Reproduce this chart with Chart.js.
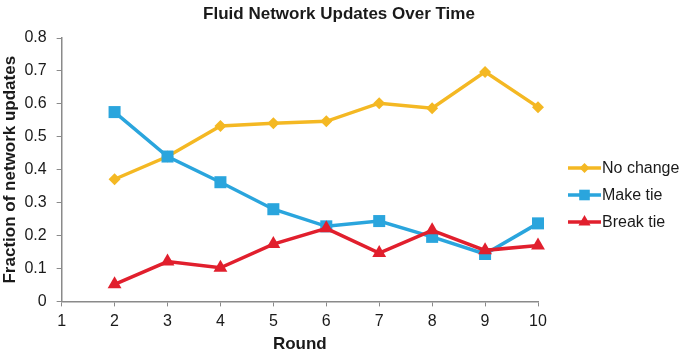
<!DOCTYPE html>
<html>
<head>
<meta charset="utf-8">
<script src="https://cdn.jsdelivr.net/npm/chart.js@4"></script>
<style>
  body { margin: 0; background: #fff; }
  #wrap { width: 685px; height: 355px; }
</style>
</head>
<body>
<div id="wrap"><canvas id="chartCanvas" width="685" height="355"></canvas></div>
<script>
var rounds = [2, 3, 4, 5, 6, 7, 8, 9, 10];
var noChange = [0.371, 0.440, 0.533, 0.541, 0.547, 0.602, 0.587, 0.697, 0.590];
var makeTie = [0.575, 0.440, 0.362, 0.280, 0.228, 0.244, 0.196, 0.144, 0.237];
var breakTie = [0.052, 0.121, 0.102, 0.174, 0.222, 0.147, 0.216, 0.155, 0.170];

var seriesNames = ['No change', 'Make tie', 'Break tie'];
var seriesColors = ['#F4B823', '#2AA5DD', '#E11F2D'];
var seriesMarkers = ['rectRot', 'rect', 'triangle'];
var markerRadii = [6, 8.5, 8];

var FONT = '"Liberation Sans", Arial, sans-serif';
var AXIS = '#8a8a8a';
var TEXT = '#1a1a1a';

function toPoints(vals) {
  return rounds.map(function(r, i) { return { x: r, y: vals[i] }; });
}

function makeDataset(idx, vals) {
  return {
    label: seriesNames[idx],
    data: toPoints(vals),
    borderColor: seriesColors[idx],
    backgroundColor: seriesColors[idx],
    borderWidth: 3.5,
    pointStyle: seriesMarkers[idx],
    pointRadius: markerRadii[idx],
    pointBorderWidth: 0,
    tension: 0,
    clip: false,
    order: 3 - idx
  };
}

// title across the full width and a line+marker legend on the right
var decorations = {
  id: 'decorations',
  afterDraw: function(chart) {
    var ctx = chart.ctx;
    ctx.save();
    ctx.fillStyle = TEXT;
    ctx.textAlign = 'center';
    ctx.textBaseline = 'middle';
    ctx.font = 'bold 17px ' + FONT;
    ctx.fillText('Fluid Network Updates Over Time', 339, 14);

    var x0 = 568, x1 = 601;
    var ys = [168, 195, 222];
    ctx.textAlign = 'left';
    ctx.font = '16px ' + FONT;
    for (var i = 0; i < 3; i++) {
      ctx.strokeStyle = seriesColors[i];
      ctx.lineWidth = 3.5;
      ctx.beginPath();
      ctx.moveTo(x0, ys[i]);
      ctx.lineTo(x1, ys[i]);
      ctx.stroke();
      ctx.fillStyle = seriesColors[i];
      Chart.helpers.drawPoint(ctx, { pointStyle: seriesMarkers[i], radius: markerRadii[i] - 1, borderWidth: 0 }, (x0 + x1) / 2, ys[i]);
      ctx.fillStyle = TEXT;
      ctx.fillText(seriesNames[i], x1 + 1, ys[i] + 1);
    }
    ctx.restore();
  }
};

var ctx = document.getElementById('chartCanvas').getContext('2d');
new Chart(ctx, {
  type: 'line',
  data: {
    datasets: [
      makeDataset(0, noChange),
      makeDataset(1, makeTie),
      makeDataset(2, breakTie)
    ]
  },
  options: {
    responsive: false,
    animation: false,
    layout: { padding: { left: 0, right: 147, top: 38, bottom: 0 } },
    plugins: {
      legend: { display: false },
      tooltip: { enabled: false },
      title: { display: false }
    },
    scales: {
      x: {
        type: 'linear',
        min: 1,
        max: 10,
        ticks: { stepSize: 1, color: TEXT, font: { family: FONT, size: 16 }, padding: 6 },
        grid: { drawOnChartArea: false, drawTicks: true, tickLength: 5, color: AXIS },
        border: { color: AXIS, width: 1.5 },
        title: {
          display: true,
          text: 'Round',
          color: TEXT,
          font: { family: FONT, size: 17, weight: 'bold' },
          padding: { top: -3, bottom: 0 }
        }
      },
      y: {
        min: 0,
        max: 0.8,
        ticks: {
          stepSize: 0.1,
          color: TEXT,
          font: { family: FONT, size: 16 },
          padding: 10,
          callback: function(v) { return v === 0 ? '0' : v.toFixed(1); }
        },
        grid: { drawOnChartArea: false, drawTicks: true, tickLength: 5, color: AXIS },
        border: { color: AXIS, width: 1.5 },
        title: {
          display: true,
          text: 'Fraction of network updates',
          color: TEXT,
          font: { family: FONT, size: 17, weight: 'bold' },
          padding: { top: 0, bottom: -6 }
        }
      }
    }
  },
  plugins: [decorations]
});
</script>
</body>
</html>
